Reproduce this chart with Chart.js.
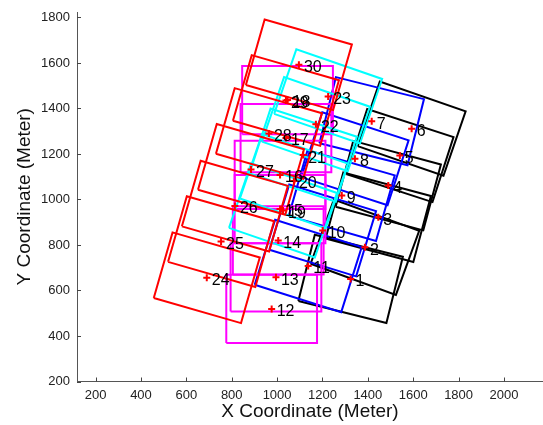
<!DOCTYPE html>
<html><head><meta charset="utf-8">
<script src="https://cdn.jsdelivr.net/npm/chart.js@4/dist/chart.umd.min.js"></script>
<style>html,body{margin:0;padding:0;background:#fff;overflow:hidden}</style>
</head><body>
<canvas id="c" width="543" height="425"></canvas>
<script>
// ---------------- data ----------------
const pointIds = [1,2,3,4,5,6,7,8,9,10,11,12,13,14,15,16,17,18,19,20,21,22,23,24,25,26,27,28,29,30];
const centerX = [1324,1387,1446,1490,1541,1593, 1417,1343,1285,1201,1137, 976,995,1005,1013,1013,1039,1046, 1026,1074,1115,1171,1225, 690,753,814,885,964,1039,1096];
const centerY = [651,790,922,1061,1193,1311, 1344,1179,1017,864,708, 519,658,820,958,1108,1270,1437, 952,1081,1195,1331,1453, 656,815,971,1132,1290,1435,1592];
const rotationDeg = [14,20,15,15,18,19, 14,18,16,17,17.5, 0,0,0,0,0,0,0, 19,19,18,19,19, 16,16,16,16,16,16,16];
const groupIds = [1,1,1,1,1,1, 2,2,2,2,2, 3,3,3,3,3,3,3, 4,4,4,4,4, 5,5,5,5,5,5,5];
const rectWidth = 400;   // metres
const rectHeight = 300;  // metres
const xTicks = [200,400,600,800,1000,1200,1400,1600,1800,2000];
const yTicks = [200,400,600,800,1000,1200,1400,1600,1800];
const xTitle = 'X Coordinate (Meter)';
const yTitle = 'Y Coordinate (Meter)';

// ---------------- style ----------------
const groupColor = {1:'#000000', 2:'#0000ff', 3:'#ff00ff', 4:'#00ffff', 5:'#ff0000'};
const FONT = '"Liberation Sans", Arial, Helvetica, sans-serif';

function corners(i){
  const t = -rotationDeg[i]*Math.PI/180, c = Math.cos(t), s = Math.sin(t);
  const hw = rectWidth/2, hh = rectHeight/2;
  const pts = [[-hw,-hh],[hw,-hh],[hw,hh],[-hw,hh],[-hw,-hh]];
  return pts.map(([dx,dy]) => ({x: centerX[i] + dx*c - dy*s, y: centerY[i] + dx*s + dy*c}));
}

const datasets = pointIds.map((id,i) => ({
  type:'line', data: corners(i), showLine:true, fill:false,
  borderColor: groupColor[groupIds[i]], borderWidth: 2, pointRadius: 0,
  tension: 0, order: 40 - i, clip: false
}));
datasets.push({
  type:'scatter', data: pointIds.map((id,i)=>({x:centerX[i], y:centerY[i]})),
  pointStyle:'cross', pointRadius:3.5, borderColor:'#ff0000', borderWidth:2,
  backgroundColor:'#ff0000', order: 0, clip:false
});

const overlay = {
  id:'overlay',
  afterDatasetsDraw(chart){
    const ctx = chart.ctx, xs = chart.scales.x, ys = chart.scales.y;
    ctx.save();
    ctx.font = '16px ' + FONT;
    ctx.fillStyle = '#000';
    ctx.textAlign = 'left'; ctx.textBaseline = 'middle';
    pointIds.forEach((id,i)=>{
      ctx.fillText(String(id), xs.getPixelForValue(centerX[i]) + 5, ys.getPixelForValue(centerY[i]) + 3);
    });
    ctx.restore();
  },
  afterDraw(chart){
    const ctx = chart.ctx, xs = chart.scales.x, ys = chart.scales.y, a = chart.chartArea;
    ctx.save();
    ctx.strokeStyle = '#444'; ctx.lineWidth = 1;
    ctx.beginPath();
    xTicks.forEach(v=>{ const p = Math.round(xs.getPixelForValue(v))+0.5; ctx.moveTo(p, a.bottom); ctx.lineTo(p, a.bottom-4); });
    yTicks.forEach(v=>{ const p = Math.round(ys.getPixelForValue(v))+0.5; ctx.moveTo(a.left, p); ctx.lineTo(a.left+4, p); });
    ctx.stroke();
    ctx.restore();
  }
};

new Chart(document.getElementById('c'), {
  type:'scatter',
  data:{ datasets },
  options:{
    responsive:false, animation:false, devicePixelRatio:1,
    layout:{ autoPadding:false, padding:{ top:12, right:0, left:0, bottom:0 } },
    plugins:{ legend:{display:false}, tooltip:{enabled:false} },
    scales:{
      x:{
        type:'linear', min:118, max:2172,
        afterBuildTicks(s){ s.ticks = xTicks.map(v=>({value:v})); },
        afterFit(s){ s.height = 43.5; s.paddingLeft = 0; s.paddingRight = 0; },
        grid:{ display:true, drawOnChartArea:false, drawTicks:false },
        border:{ display:true, color:'#555', width:1 },
        ticks:{ padding:6, color:'#222', font:{ family:FONT, size:13 }, maxRotation:0, autoSkip:false, callback:v=>String(v) },
        title:{ display:true, text:xTitle, color:'#111', font:{ family:FONT, size:19 }, padding:{ top:0, bottom:2 } }
      },
      y:{
        type:'linear', min:200, max:1824,
        afterBuildTicks(s){ s.ticks = yTicks.map(v=>({value:v})); },
        afterFit(s){ s.width = 77; s.paddingTop = 0; s.paddingBottom = 0; },
        grid:{ display:true, drawOnChartArea:false, drawTicks:false },
        border:{ display:true, color:'#555', width:1 },
        ticks:{ padding:7, color:'#222', font:{ family:FONT, size:13 }, autoSkip:false, callback:v=>String(v) },
        title:{ display:true, text:yTitle, color:'#111', font:{ family:FONT, size:19 }, padding:{ top:13, bottom:0 } }
      }
    }
  },
  plugins:[overlay]
});
</script>
</body></html>
